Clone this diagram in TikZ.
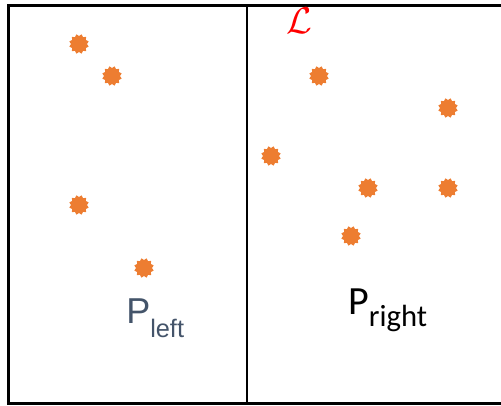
\documentclass[tikz,border=0pt]{standalone}
\usepackage{fontspec}
\usetikzlibrary{shapes.geometric}
\newfontfamily\arialf{Liberation Sans}
\newfontfamily\calibrif{Carlito}
\definecolor{dotorange}{HTML}{ED7D31}
\definecolor{slateblue}{HTML}{44546A}
\tikzset{
  pt/.style={star, star points=12, star point ratio=0.8, minimum size=16*0.75pt, inner sep=0pt, fill=dotorange, draw=none},
  frame/.style={draw=black, line width=3*0.75pt},
  divider/.style={draw=black, line width=2*0.75pt}
}
\begin{document}
\begin{tikzpicture}[x=0.75pt,y=-0.75pt]
\useasboundingbox (0,0) rectangle (501,405);
\draw[frame] (8.5,5.5) -- (505,5.5);
\draw[frame] (8.5,4) -- (8.5,403.5) -- (505,403.5);
\coordinate (dtop) at (247,5.5);
\coordinate (dbot) at (247,403.5);
\draw[divider] (dtop) -- (dbot);
\node[pt] (a1) at (79,44) {};
\node[pt] (a2) at (112,76) {};
\node[pt] (a3) at (79,205) {};
\node[pt] (a4) at (144,268) {};
\node[pt] (b1) at (319,76) {};
\node[pt] (b2) at (448,108) {};
\node[pt] (b3) at (271,156) {};
\node[pt] (b4) at (368,188) {};
\node[pt] (b5) at (448,188) {};
\node[pt] (b6) at (351,236) {};
\node[anchor=base west, inner sep=0pt, text=slateblue, font=\arialf\fontsize{27}{27}\selectfont] (pl) at (126,323) {P\raisebox{-11pt}{\fontsize{19}{19}\selectfont left}};
\node[anchor=base west, inner sep=0pt, text=black, font=\calibrif\fontsize{30}{30}\selectfont] (pr) at (348,314) {P\raisebox{-9pt}{\fontsize{23}{23}\selectfont right}};
\node[anchor=base, inner sep=0pt, text=red] (L) at (299,33) {\scalebox{2.8}{$\mathcal{L}$}};
\end{tikzpicture}
\end{document}
